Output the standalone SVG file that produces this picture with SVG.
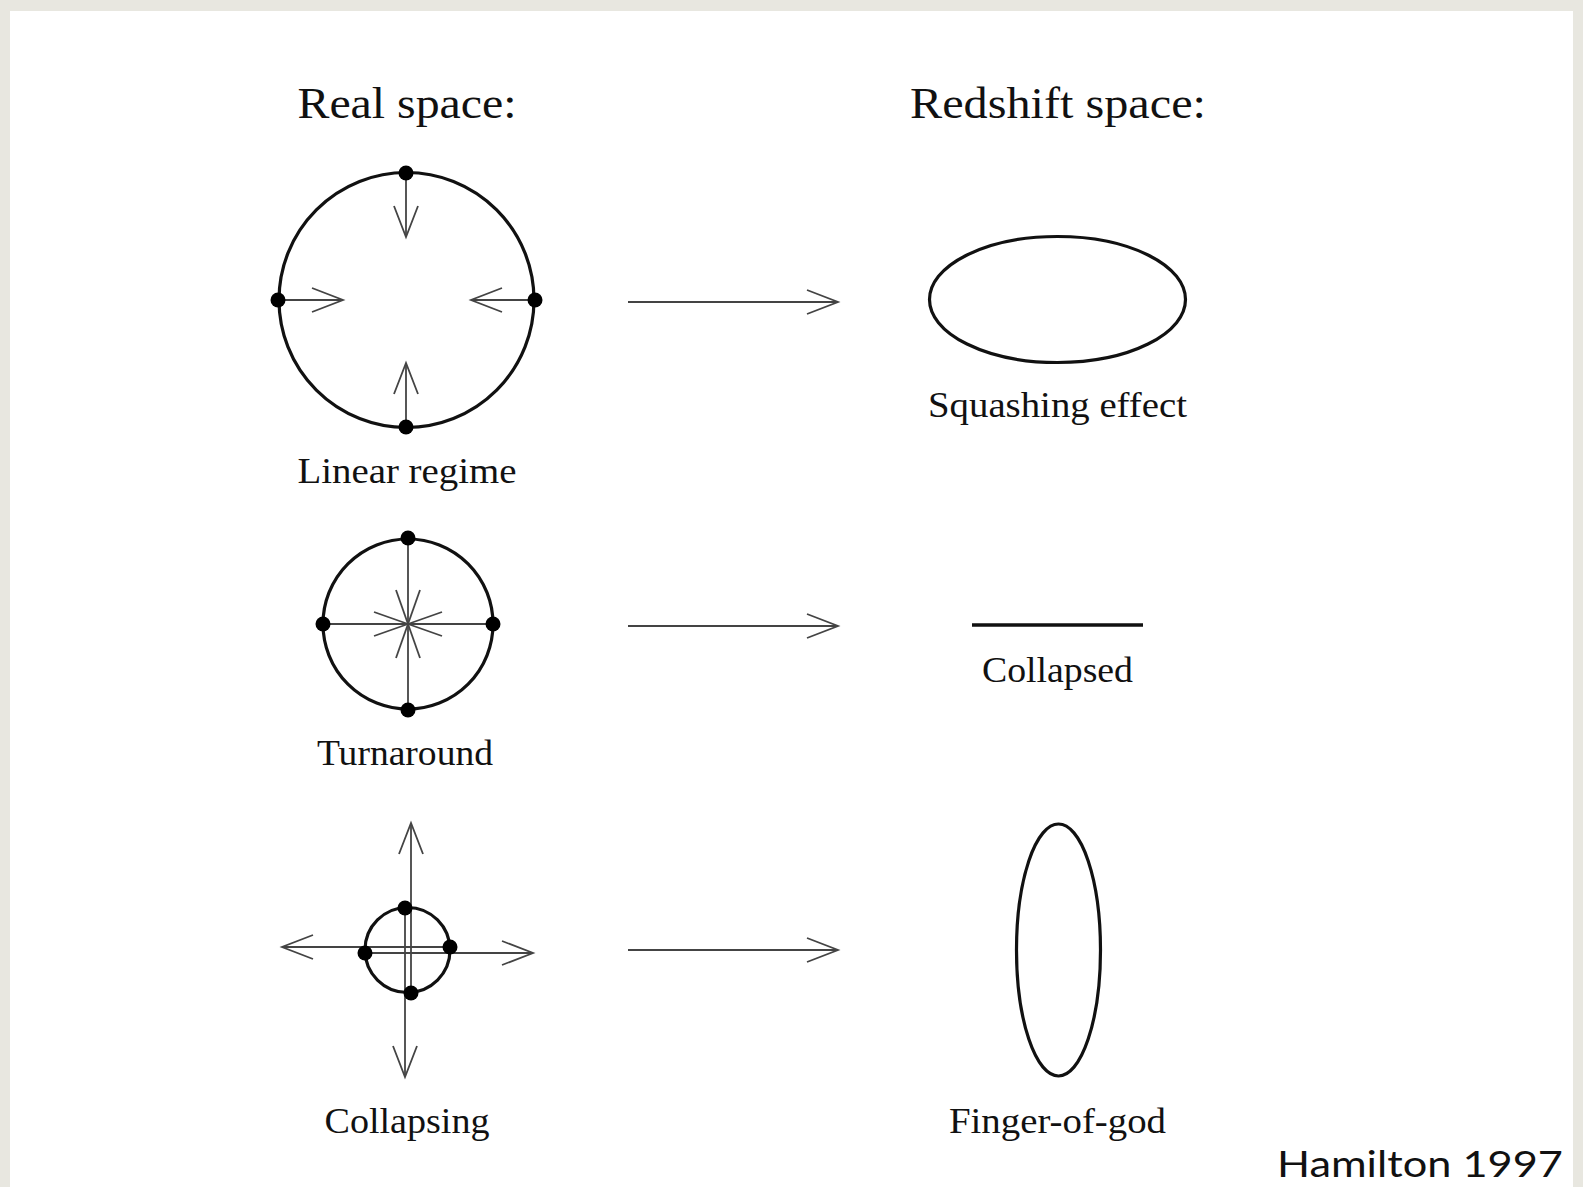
<svg xmlns="http://www.w3.org/2000/svg" width="1583" height="1187" viewBox="0 0 1583 1187">
<style>
.bg{fill:#e8e7e0}
.panel{fill:#ffffff}
.outline{fill:none;stroke:#111;stroke-width:3.2}
.thin{fill:none;stroke:#444;stroke-width:1.8}
.dot{fill:#000}
.lbl{font-family:"Liberation Serif","Times New Roman",serif;font-size:35px;fill:#111;text-anchor:middle}
.hdr{font-family:"Liberation Serif","Times New Roman",serif;font-size:44px;fill:#111;text-anchor:middle}
.cite{font-family:Lato,"Open Sans",sans-serif;font-size:37px;fill:#111}
</style>
<defs>
<marker id="v" markerUnits="userSpaceOnUse" orient="auto" markerWidth="40" markerHeight="30" refX="0" refY="0" viewBox="-34 -15 36 30" overflow="visible">
<path d="M-31,-12 L0,0 L-31,12" fill="none" stroke="#444" stroke-width="1.8"/>
</marker>
</defs>
<rect class="bg" x="0" y="0" width="1583" height="1187"/>
<rect class="panel" x="10" y="11" width="1563" height="1176"/>

<g id="header-real"><text class="hdr" x="407" y="118" textLength="219" lengthAdjust="spacingAndGlyphs">Real space:</text></g>
<g id="header-redshift"><text class="hdr" x="1058" y="118" textLength="296" lengthAdjust="spacingAndGlyphs">Redshift space:</text></g>

<g id="linear-regime">
<circle class="outline" cx="406.5" cy="300" r="127.5"/>
<line class="thin" x1="406" y1="173" x2="406" y2="237" marker-end="url(#v)"/>
<line class="thin" x1="406" y1="427" x2="406" y2="363" marker-end="url(#v)"/>
<line class="thin" x1="278" y1="300" x2="343" y2="300" marker-end="url(#v)"/>
<line class="thin" x1="535" y1="300" x2="471" y2="300" marker-end="url(#v)"/>
<circle class="dot" cx="406" cy="173" r="7.5"/>
<circle class="dot" cx="406" cy="427" r="7.5"/>
<circle class="dot" cx="278" cy="300" r="7.5"/>
<circle class="dot" cx="535" cy="300" r="7.5"/>
<text class="lbl" x="407" y="483" textLength="219" lengthAdjust="spacingAndGlyphs">Linear regime</text>
</g>

<g id="turnaround">
<circle class="outline" cx="408" cy="624" r="85"/>
<line class="thin" x1="408" y1="538" x2="408" y2="710"/>
<line class="thin" x1="323" y1="624" x2="493" y2="624"/>
<line class="thin" x1="374" y1="612" x2="442" y2="636"/>
<line class="thin" x1="374" y1="636" x2="442" y2="612"/>
<line class="thin" x1="396" y1="590" x2="420" y2="658"/>
<line class="thin" x1="420" y1="590" x2="396" y2="658"/>
<circle class="dot" cx="408" cy="538" r="7.5"/>
<circle class="dot" cx="408" cy="710" r="7.5"/>
<circle class="dot" cx="323" cy="624" r="7.5"/>
<circle class="dot" cx="493" cy="624" r="7.5"/>
<text class="lbl" x="405" y="765" textLength="176" lengthAdjust="spacingAndGlyphs">Turnaround</text>
</g>

<g id="collapsing">
<circle class="outline" cx="407.5" cy="950" r="42.5"/>
<line class="thin" x1="411" y1="993" x2="411" y2="823" marker-end="url(#v)"/>
<line class="thin" x1="405" y1="908" x2="405" y2="1077" marker-end="url(#v)"/>
<line class="thin" x1="450" y1="947" x2="282" y2="947" marker-end="url(#v)"/>
<line class="thin" x1="365" y1="953" x2="533" y2="953" marker-end="url(#v)"/>
<circle class="dot" cx="405" cy="908" r="7.5"/>
<circle class="dot" cx="450" cy="947" r="7.5"/>
<circle class="dot" cx="411" cy="993" r="7.5"/>
<circle class="dot" cx="365" cy="953" r="7.5"/>
<text class="lbl" x="407" y="1133" textLength="165" lengthAdjust="spacingAndGlyphs">Collapsing</text>
</g>

<g id="squashing-effect">
<ellipse class="outline" cx="1057.5" cy="299.5" rx="128" ry="63"/>
<text class="lbl" x="1057.5" y="417" textLength="259" lengthAdjust="spacingAndGlyphs">Squashing effect</text>
</g>

<g id="collapsed">
<line x1="972" y1="625" x2="1143" y2="625" stroke="#111" stroke-width="3.5"/>
<text class="lbl" x="1057.5" y="682" textLength="151" lengthAdjust="spacingAndGlyphs">Collapsed</text>
</g>

<g id="finger-of-god">
<ellipse class="outline" cx="1058.5" cy="950" rx="42" ry="126"/>
<text class="lbl" x="1057.5" y="1133" textLength="217" lengthAdjust="spacingAndGlyphs">Finger-of-god</text>
</g>

<g id="connectors">
<line class="thin" x1="628" y1="302" x2="838" y2="302" marker-end="url(#v)"/>
<line class="thin" x1="628" y1="626" x2="838" y2="626" marker-end="url(#v)"/>
<line class="thin" x1="628" y1="950" x2="838" y2="950" marker-end="url(#v)"/>
</g>

<g id="citation"><text class="cite" x="1277" y="1177" textLength="286" lengthAdjust="spacingAndGlyphs">Hamilton 1997</text></g>
</svg>
